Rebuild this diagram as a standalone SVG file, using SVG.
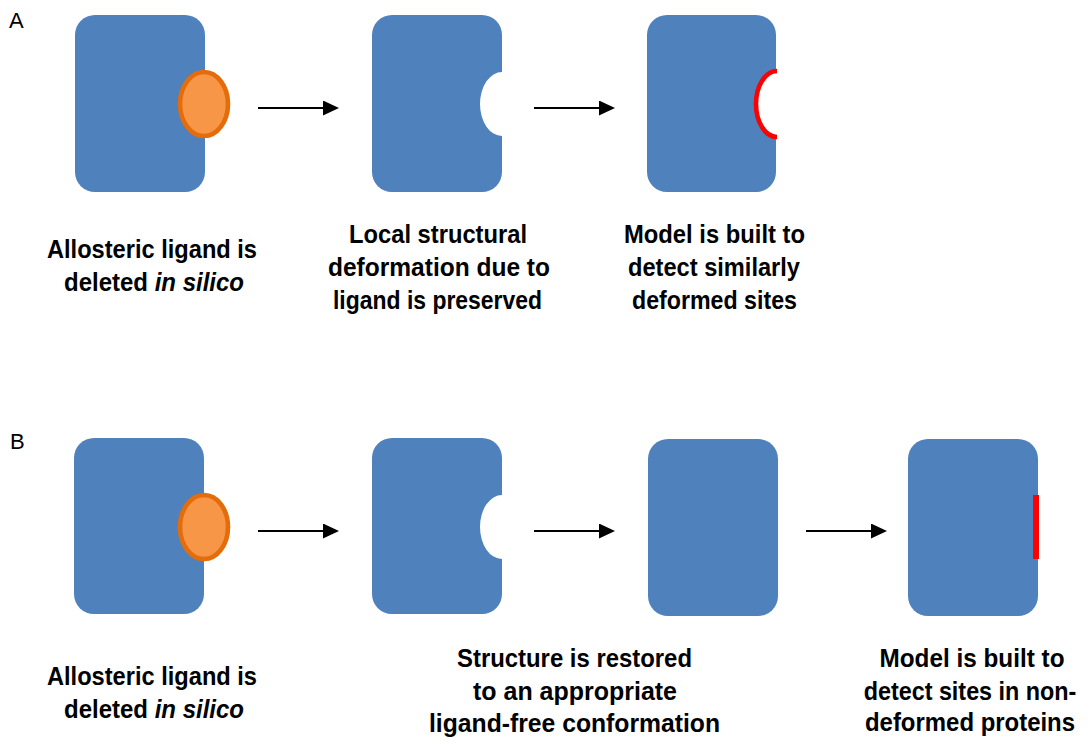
<svg xmlns="http://www.w3.org/2000/svg" width="1092" height="745" viewBox="0 0 1092 745">
  <style>
    .prot { fill: #4F81BD; }
    .lig { fill: #F79646; stroke: #E46C0A; stroke-width: 4.6; }
    .site { fill: none; stroke: #FF0000; stroke-width: 4.6; }
    .bar { fill: #FF0000; }
    .arrow { stroke: #000000; stroke-width: 2; fill: none; }
    .head { fill: #000000; }
    .lbl { font-family: "Liberation Sans", Arial, sans-serif; font-weight: bold; font-size: 26.5px; fill: #000000; text-anchor: middle; }
    .panel { font-family: "Liberation Sans", Arial, sans-serif; font-size: 22px; fill: #000000; }
  </style>
  <defs>
    <marker id="ah" markerUnits="userSpaceOnUse" markerWidth="16" markerHeight="16" refX="0" refY="7.5" orient="auto">
      <polygon class="head" points="0,0 16,7.5 0,15"/>
    </marker>
  </defs>

  <text class="panel" x="9" y="28">A</text>
  <text class="panel" x="10" y="449">B</text>

  <!-- Row A -->
  <g id="a1">
    <rect class="prot" x="75" y="15" width="130" height="177" rx="20" ry="20"/>
    <ellipse class="lig" cx="204" cy="104" rx="24" ry="32"/>
  </g>
  <g id="a2">
    <path class="prot" d="M395 15 H482 A20 20 0 0 1 502 35 V72 A22 32 0 0 0 502 136 V172 A20 20 0 0 1 482 192 H392 A20 20 0 0 1 372 172 V35 A20 20 0 0 1 392 15 Z"/>
  </g>
  <g id="a3">
    <path class="prot" d="M667 15 H756 A20 20 0 0 1 776 35 V71 A20 33 0 0 0 776 137 V172 A20 20 0 0 1 756 192 H667 A20 20 0 0 1 647 172 V35 A20 20 0 0 1 667 15 Z"/>
    <path class="site" d="M777 71 A21 33 0 0 0 777 137"/>
  </g>

  <!-- Row B -->
  <g id="b1">
    <rect class="prot" x="74" y="438" width="130" height="176" rx="20" ry="20"/>
    <ellipse class="lig" cx="204" cy="527" rx="24" ry="32"/>
  </g>
  <g id="b2">
    <path class="prot" d="M392 438 H482 A20 20 0 0 1 502 458 V495 A22 32 0 0 0 502 559 V594 A20 20 0 0 1 482 614 H392 A20 20 0 0 1 372 594 V458 A20 20 0 0 1 392 438 Z"/>
  </g>
  <g id="b3">
    <rect class="prot" x="648" y="439" width="130" height="177" rx="20" ry="20"/>
  </g>
  <g id="b4">
    <rect class="prot" x="908" y="439" width="130" height="177" rx="20" ry="20"/>
    <rect class="bar" x="1033" y="495" width="6" height="64"/>
  </g>

  <g id="connectors">
    <line class="arrow" x1="258" y1="108" x2="323" y2="108" marker-end="url(#ah)"/>
    <line class="arrow" x1="534" y1="108" x2="599" y2="108" marker-end="url(#ah)"/>
    <line class="arrow" x1="258" y1="531" x2="323" y2="531" marker-end="url(#ah)"/>
    <line class="arrow" x1="534" y1="531" x2="599" y2="531" marker-end="url(#ah)"/>
    <line class="arrow" x1="806" y1="531" x2="871" y2="531" marker-end="url(#ah)"/>
  </g>

  <g id="labels-a">
    <text class="lbl" x="152" y="258" textLength="210" lengthAdjust="spacingAndGlyphs">Allosteric ligand is</text>
    <text class="lbl" x="154" y="291" textLength="180" lengthAdjust="spacingAndGlyphs">deleted <tspan font-style="italic">in silico</tspan></text>

    <text class="lbl" x="438" y="243" textLength="178" lengthAdjust="spacingAndGlyphs">Local structural</text>
    <text class="lbl" x="439" y="276" textLength="222" lengthAdjust="spacingAndGlyphs">deformation due to</text>
    <text class="lbl" x="437.5" y="309" textLength="209" lengthAdjust="spacingAndGlyphs">ligand is preserved</text>

    <text class="lbl" x="714.5" y="243" textLength="181" lengthAdjust="spacingAndGlyphs">Model is built to</text>
    <text class="lbl" x="714" y="276" textLength="172" lengthAdjust="spacingAndGlyphs">detect similarly</text>
    <text class="lbl" x="714.5" y="309" textLength="165" lengthAdjust="spacingAndGlyphs">deformed sites</text>
  </g>

  <g id="labels-b">
    <text class="lbl" x="152" y="685" textLength="210" lengthAdjust="spacingAndGlyphs">Allosteric ligand is</text>
    <text class="lbl" x="154" y="718" textLength="180" lengthAdjust="spacingAndGlyphs">deleted <tspan font-style="italic">in silico</tspan></text>

    <text class="lbl" x="574.5" y="667" textLength="235" lengthAdjust="spacingAndGlyphs">Structure is restored</text>
    <text class="lbl" x="575" y="700" textLength="204" lengthAdjust="spacingAndGlyphs">to an appropriate</text>
    <text class="lbl" x="574.5" y="732" textLength="291" lengthAdjust="spacingAndGlyphs">ligand-free conformation</text>

    <text class="lbl" x="972" y="667" textLength="185" lengthAdjust="spacingAndGlyphs">Model is built to</text>
    <text class="lbl" transform="translate(970,700) scale(0.875,1)" x="0" y="0" textLength="243" lengthAdjust="spacingAndGlyphs">detect sites in non-</text>
    <text class="lbl" transform="translate(970,731) scale(0.894,1)" x="0" y="0" textLength="235" lengthAdjust="spacingAndGlyphs">deformed proteins</text>
  </g>
</svg>
